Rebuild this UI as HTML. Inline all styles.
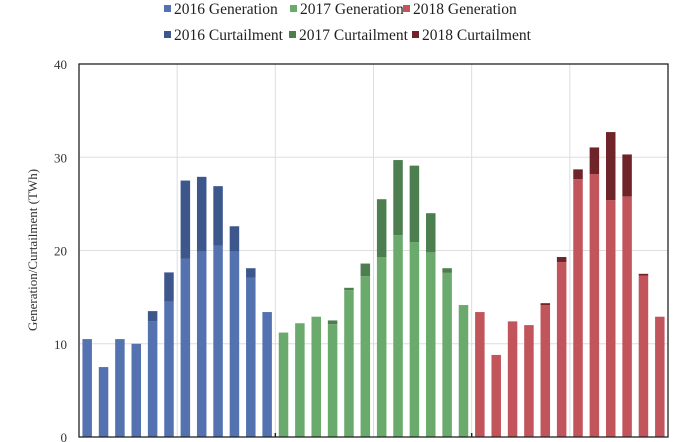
<!DOCTYPE html>
<html><head><meta charset="utf-8"><style>
body{margin:0;background:#fff;}
svg{display:block;font-family:"Liberation Serif",serif;}
</style></head><body>
<svg id="chart" width="678" height="442">
<g id="grid"></g>
<g id="bars"></g>
<g id="axes"></g>
<text x="37" y="250" font-size="13" fill="#333" text-anchor="middle" transform="rotate(-90 37 250)">Generation/Curtailment (TWh)</text>
<g id="legend"></g>
</svg>
<script>
const years = ['2016','2017','2018'];
const gen2016 = [10.5,7.5,10.5,10.0,12.4,14.5,19.1,19.9,20.5,19.9,17.1,13.4];
const cur2016 = [0,0,0,0,1.1,3.15,8.4,8.0,6.4,2.7,1.0,0];
const gen2017 = [11.2,12.2,12.9,12.1,15.75,17.25,19.3,21.65,20.9,19.8,17.6,14.15];
const cur2017 = [0,0,0,0.4,0.25,1.35,6.2,8.05,8.2,4.2,0.5,0];
const gen2018 = [13.4,8.8,12.4,12.0,14.15,18.75,27.65,28.2,25.4,25.8,17.3,12.9];
const cur2018 = [0,0,0,0,0.2,0.55,1.05,2.85,7.3,4.5,0.2,0];
const yTicks = [0,10,20,30,40];
const genColors = ['#5572b0','#6aaa6c','#c2555b'];
const curColors = ['#3d578d','#4d7e4f','#6e2428'];

const NS='http://www.w3.org/2000/svg';
const X0=79, X1=668, Y0=437, Y1=64, YMAX=40;
const nBars=36, slot=(X1-X0)/nBars, bw=9.5;
const y=v=>Y0-(v/YMAX)*(Y0-Y1);
const x=i=>X0+slot*(i+0.5);
function mk(tag,attrs,parent){const e=document.createElementNS(NS,tag);for(const k in attrs)e.setAttribute(k,attrs[k]);parent.appendChild(e);return e;}
const grid=document.getElementById('grid'),bars=document.getElementById('bars'),axes=document.getElementById('axes'),legend=document.getElementById('legend');
yTicks.forEach(t=>{
  if(t>0){const l=mk('line',{x1:X0,x2:X1,y1:y(t),y2:y(t),stroke:'#ddd','stroke-width':1},grid);
  
  }
  const tx=mk('text',{x:67,y:y(t)+5,'font-size':13,fill:'#333','text-anchor':'end'},axes);
  tx.textContent=t;
  
  
});
for(let k=1;k<6;k++){const gx=X0+(X1-X0)*k/6;
  const l=mk('line',{x1:gx,x2:gx,y1:Y1,y2:Y0,stroke:'#ddd','stroke-width':1},grid);
  
  }
const gens=[gen2016,gen2017,gen2018],curs=[cur2016,cur2017,cur2018];
gens.forEach((g,s)=>{g.forEach((v,m)=>{
  const i=s*12+m,cx=x(i);
  const r=mk('rect',{x:cx-bw/2,y:y(v),width:bw,height:Y0-y(v),fill:genColors[s]},bars);
  
  
  const c=curs[s][m];
  if(c>0){const r2=mk('rect',{x:cx-bw/2,y:y(v+c),width:bw,height:y(v)-y(v+c),fill:curColors[s]},bars);
  
  }
});});
const frame=mk('rect',{x:X0,y:Y1,width:X1-X0,height:Y0-Y1,fill:'none',stroke:'#222','stroke-width':1.3},axes);


[1,2].forEach(k=>{const tx=X0+(X1-X0)*k/3;
  const l=mk('line',{x1:tx,x2:tx,y1:Y0-4,y2:Y0,stroke:'#222','stroke-width':1.5},axes);
  
  });
const leg=[[164,14,'2016 Generation',genColors[0]],[290,14,'2017 Generation',genColors[1]],[403,14,'2018 Generation',genColors[2]],
[164,40,'2016 Curtailment',curColors[0]],[289,40,'2017 Curtailment',curColors[1]],[412,40,'2018 Curtailment',curColors[2]]];
leg.forEach(d=>{
  const g=mk('g',{},legend);
  
  
  mk('rect',{x:d[0],y:d[1]-9,width:7,height:7,fill:d[3]},g);
  const t=mk('text',{x:d[0]+10,y:d[1],'font-size':15.5,fill:'#222'},g);
  t.textContent=d[2];
});
</script>
</body></html>
